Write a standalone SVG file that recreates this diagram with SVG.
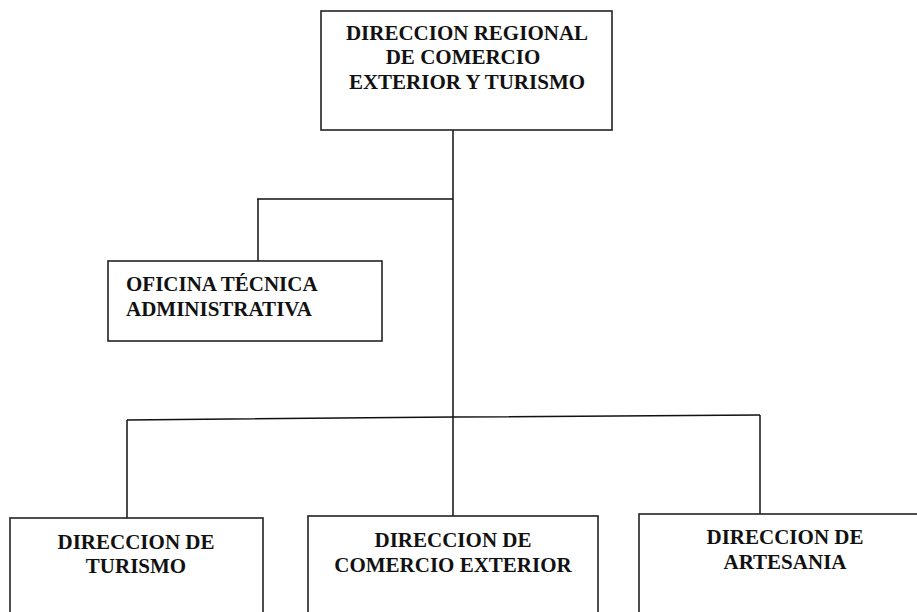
<svg xmlns="http://www.w3.org/2000/svg" width="917" height="612" viewBox="0 0 917 612">
<style>
.box{fill:#fff;stroke:#222;stroke-width:1.6}
.ln{fill:none;stroke:#111;stroke-width:1.5}
text{font-family:"Liberation Serif","Times New Roman",serif;font-weight:bold;font-size:21px;fill:#111}
.c{text-anchor:middle}
</style>
<rect width="917" height="612" fill="#fff"/>
<g id="connectors">
<path class="ln" d="M453 130 V417"/>
<path class="ln" d="M257 199 H453"/>
<path class="ln" d="M258 199 V262"/>
<path class="ln" d="M127 420 L453 417 L760 415"/>
<path class="ln" d="M127 420 V518"/>
<path class="ln" d="M453 417 V516"/>
<path class="ln" d="M760 415 V514"/>
</g>
<g id="n-regional">
<rect class="box" x="321" y="11" width="291" height="119"/>
<text class="c" x="467" y="40">DIRECCION REGIONAL</text>
<text class="c" x="463" y="64">DE COMERCIO</text>
<text class="c" x="467" y="89">EXTERIOR Y TURISMO</text>
</g>
<g id="n-oficina">
<rect class="box" x="108" y="261" width="274" height="80"/>
<text x="126" y="291">OFICINA TÉCNICA</text>
<text x="126" y="316">ADMINISTRATIVA</text>
</g>
<g id="n-turismo">
<rect class="box" x="10" y="518" width="253" height="110"/>
<text class="c" x="136" y="549">DIRECCION DE</text>
<text class="c" x="136" y="573">TURISMO</text>
</g>
<g id="n-comercio">
<rect class="box" x="308" y="516" width="290" height="110"/>
<text class="c" x="453" y="547">DIRECCION DE</text>
<text class="c" x="453" y="572">COMERCIO EXTERIOR</text>
</g>
<g id="n-artesania">
<rect class="box" x="639" y="514" width="290" height="110"/>
<text class="c" x="785" y="544">DIRECCION DE</text>
<text class="c" x="785" y="569">ARTESANIA</text>
</g>
</svg>
